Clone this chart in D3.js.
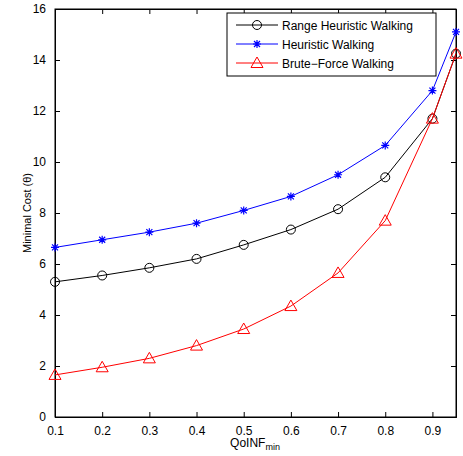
<!DOCTYPE html>
<html>
<head>
<meta charset="utf-8">
<script src="https://cdn.jsdelivr.net/npm/d3@7"></script>
<style>
  body { margin: 0; background: #fff; }
  text { font-family: "Liberation Sans", Arial, sans-serif; font-size: 12px; fill: #000; }
</style>
</head>
<body>
<svg width="463" height="456"></svg>
<script>
// data
var xs = [0.1, 0.2, 0.3, 0.4, 0.5, 0.6, 0.7, 0.8, 0.9, 0.95];
var rangeHeuristic = [5.3, 5.55, 5.85, 6.2, 6.75, 7.35, 8.15, 9.4, 11.7, 14.25];
var heuristic = [6.65, 6.95, 7.25, 7.6, 8.1, 8.65, 9.5, 10.65, 12.8, 15.1];
var bruteForce = [1.65, 1.95, 2.3, 2.8, 3.45, 4.35, 5.65, 7.7, 11.7, 14.25];
var xTicks = [0.1, 0.2, 0.3, 0.4, 0.5, 0.6, 0.7, 0.8, 0.9];
var yTicks = [0, 2, 4, 6, 8, 10, 12, 14, 16];

var series = [
  { name: "Range Heuristic Walking", values: rangeHeuristic, color: "#000", marker: "circle" },
  { name: "Heuristic Walking", values: heuristic, color: "#0000ff", marker: "star" },
  { name: "Brute\u2212Force Walking", values: bruteForce, color: "#ff0000", marker: "triangle" }
];

var svg = d3.select("svg");
var plotLeft = 55, plotRight = 456, plotTop = 9, plotBottom = 417;

var x = d3.scaleLinear().domain([0.1, 0.95]).range([plotLeft, plotRight]);
var y = d3.scaleLinear().domain([0, 16]).range([plotBottom, plotTop]);

//axes with inward ticks, matlab style
svg.append("g").attr("transform", "translate(0," + plotBottom + ")")
  .call(d3.axisBottom(x).tickValues(xTicks).tickSize(-5).tickPadding(9).tickFormat(d3.format(".1f")));
svg.append("g").attr("transform", "translate(0," + plotTop + ")")
  .call(d3.axisTop(x).tickValues(xTicks).tickSize(-5).tickFormat(""));
svg.append("g").attr("transform", "translate(" + plotLeft + ",0)")
  .call(d3.axisLeft(y).tickValues(yTicks).tickSize(-5).tickPadding(9));
svg.append("g").attr("transform", "translate(" + plotRight + ",0)")
  .call(d3.axisRight(y).tickValues(yTicks).tickSize(-5).tickFormat(""));

svg.selectAll(".domain").attr("stroke", "#000");
svg.selectAll(".tick line").attr("stroke", "#000");
svg.selectAll(".tick text").style("font-size", "12px").attr("fill", "#000");

svg.append("rect").attr("x", plotLeft).attr("y", plotTop)
  .attr("width", plotRight - plotLeft).attr("height", plotBottom - plotTop)
  .attr("fill", "none").attr("stroke", "#000").attr("stroke-width", 1);

var line = d3.line().x(function(d, i) { return x(xs[i]); }).y(function(d) { return y(d); });

function drawMarker(g, type, color) {
  if (type == "circle") {
    g.append("circle").attr("r", 4.5).attr("fill", "none").attr("stroke", color);
  } else if (type == "triangle") {
    g.append("path").attr("d", "M0,-6L6,4.5L-6,4.5Z").attr("fill", "none").attr("stroke", color);
  } else {
    g.append("path").attr("d", "M-4,0H4M0,-4V4M-3,-3L3,3M-3,3L3,-3").attr("stroke", color).attr("stroke-width", 1.2);
  }
}

series.forEach(function(s) {
  svg.append("path").datum(s.values)
    .attr("d", line).attr("fill", "none").attr("stroke", s.color).attr("stroke-width", 1);
  s.values.forEach(function(v, i) {
    var g = svg.append("g").attr("transform", "translate(" + x(xs[i]) + "," + y(v) + ")");
    drawMarker(g, s.marker, s.color);
  });
});

//legend
var legend = svg.append("g");
legend.append("rect").attr("x", 227).attr("y", 13).attr("width", 209).attr("height", 63)
  .attr("fill", "#fff").attr("stroke", "#000");
series.forEach(function(s, i) {
  var ly = 25 + i * 19;
  legend.append("line").attr("x1", 236).attr("x2", 278).attr("y1", ly).attr("y2", ly)
    .attr("stroke", s.color);
  drawMarker(legend.append("g").attr("transform", "translate(257," + ly + ")"), s.marker, s.color);
  legend.append("text").attr("x", 282).attr("y", ly + 4.5).text(s.name);
});

//axis labels
svg.append("text").attr("x", 255).attr("y", 447).attr("text-anchor", "middle")
  .html('QoINF<tspan dy="3" font-size="9px">min</tspan>');
svg.append("text").attr("transform", "translate(31,213) rotate(-90)")
  .attr("text-anchor", "middle").style("font-size", "11px").text("Minimal Cost (\u03b8)");
</script>
</body>
</html>
